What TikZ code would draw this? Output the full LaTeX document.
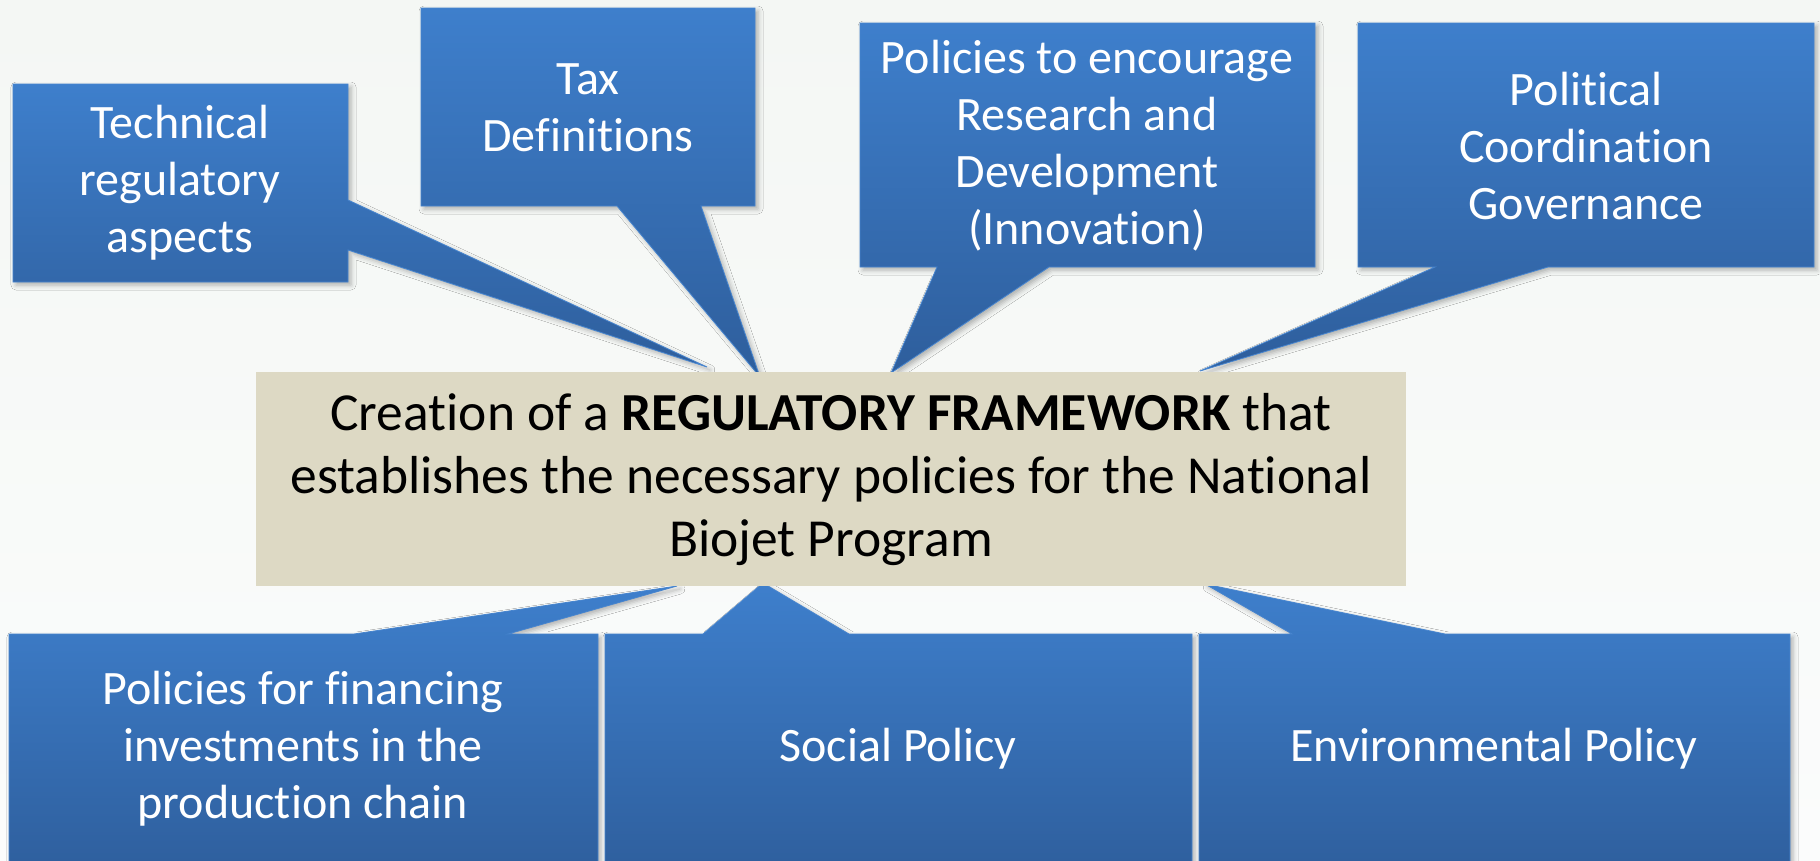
\documentclass[tikz,border=0pt]{standalone}
\usepackage{fontspec}
\setmainfont{Carlito}[Ligatures=NoCommon]
\usetikzlibrary{shadows.blur}

\definecolor{bgtop}{HTML}{F4F7F4}
\definecolor{bgbot}{HTML}{FBFCFC}
\definecolor{blueTop}{HTML}{3E7FCC}
\definecolor{blueBot}{HTML}{2E5E9C}
\definecolor{blueEdge}{HTML}{4785CF}
\definecolor{beige}{HTML}{DDD9C4}

\tikzset{
  callout/.style={top color=blueTop, bottom color=blueBot, draw=blueEdge,
    line width=0.8pt, line join=miter,
    blur shadow={shadow xshift=3pt, shadow yshift=-3pt,
      shadow blur radius=5pt, shadow opacity=30}},
  bluetext/.style={text=white, align=center, inner sep=0pt,
    font=\fontsize{48}{57}\selectfont},
  centertext/.style={text=black, align=center, inner sep=0pt,
    font=\fontsize{53.5}{63}\selectfont}
}

\begin{document}
\begin{tikzpicture}[x=1pt, y=-1pt]
  % page and background
  \useasboundingbox (0,0) rectangle (1820,860);
  \shade[top color=bgtop, bottom color=bgbot] (0,0) rectangle (1820,860);

  % tips of the callout pointers
  \coordinate (tipA) at (707,367);
  \coordinate (tipB) at (760,377);
  \coordinate (tipC) at (891,373);
  \coordinate (tipD) at (1200,371);
  \coordinate (tipE) at (677,586);
  \coordinate (tipF) at (763,583);
  \coordinate (tipG) at (1205,584);

  % upper callouts
  \path[callout] (13,84) -- (348,84) -- (348,200) -- (tipA) -- (348,250)
    -- (348,282) -- (13,282) -- cycle;
  \path[callout] (421,8) -- (755,8) -- (755,206) -- (701,206) -- (tipB)
    -- (617,206) -- (421,206) -- cycle;
  \path[callout] (860,23) -- (1315,23) -- (1315,267) -- (1049,267) -- (tipC)
    -- (937,267) -- (860,267) -- cycle;
  \path[callout] (1358,23) -- (1814,23) -- (1814,267) -- (1548,267) -- (tipD)
    -- (1435,267) -- (1358,267) -- cycle;

  % lower callouts
  \path[callout] (9,634) -- (354,634) -- (tipE) -- (508,634) -- (598,634)
    -- (598,880) -- (9,880) -- cycle;
  \path[callout] (605,634) -- (703,634) -- (tipF) -- (849,634) -- (1192,634)
    -- (1192,880) -- (605,880) -- cycle;
  \path[callout] (1199,634) -- (1292,634) -- (tipG) -- (1445,634) -- (1790,634)
    -- (1790,880) -- (1199,880) -- cycle;

  % central box
  \fill[beige] (256,372) rectangle (1406,586);
  \node[centertext] (core) at (831,480)
    {Creation of a \textbf{REGULATORY FRAMEWORK} that\\
     establishes the necessary policies for the National\\
     Biojet Program};

  % callout texts
  \node[bluetext] (tech) at (180,183) {Technical\\regulatory\\aspects};
  \node[bluetext] (tax) at (588,108) {Tax\\Definitions};
  \node[bluetext] (rnd) at (1087,146)
    {Policies to encourage\\Research and\\Development\\(Innovation)};
  \node[bluetext] (gov) at (1586,146) {Political\\Coordination\\Governance};
  \node[bluetext] (fin) at (303,749)
    {Policies for financing\\investments in the\\production chain};
  \node[bluetext] (soc) at (898,749) {Social Policy};
  \node[bluetext] (env) at (1494,749) {Environmental Policy};
\end{tikzpicture}
\end{document}
